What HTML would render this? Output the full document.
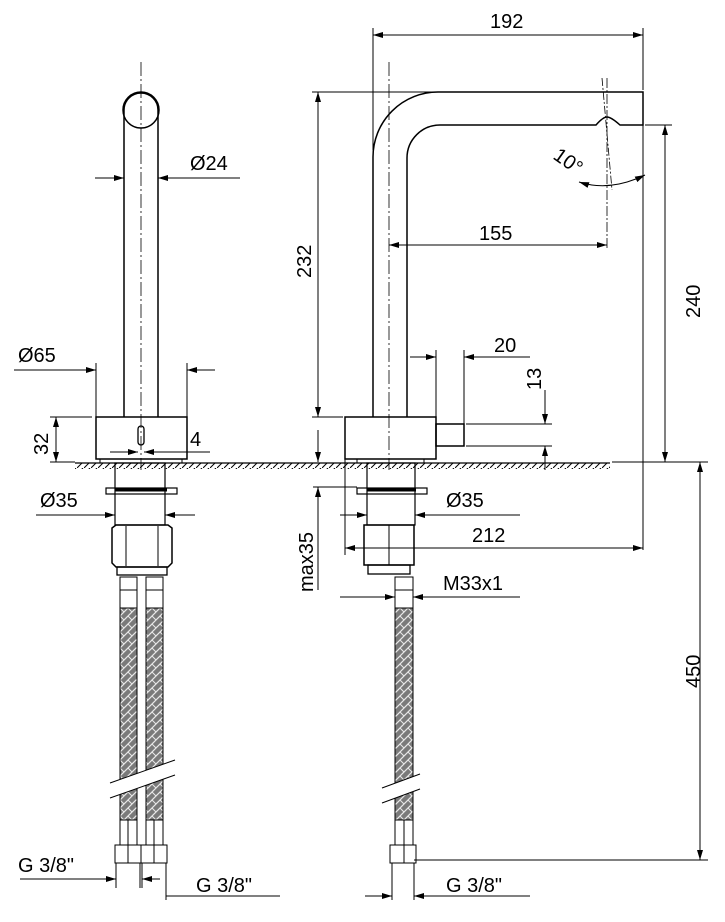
<!DOCTYPE html>
<html><head><meta charset="utf-8"><style>
html,body{margin:0;padding:0;background:#fff}
svg{display:block}
text{font-family:"Liberation Sans",Arial,sans-serif;font-size:20px;fill:#000}
</style></head><body>
<svg width="725" height="922" viewBox="0 0 725 922" xmlns="http://www.w3.org/2000/svg">
<defs>
<marker id="a" viewBox="0 0 10 6" refX="10" refY="3" markerWidth="10" markerHeight="6" orient="auto-start-reverse" markerUnits="userSpaceOnUse"><path d="M0,0 L10,3 L0,6 Z" fill="#000"/></marker>
<pattern id="hatch" width="7" height="6" patternUnits="userSpaceOnUse"><path d="M0,6 L6,0" stroke="#000" stroke-width="1"/></pattern>
<pattern id="braid" width="8" height="8" patternUnits="userSpaceOnUse"><rect width="8" height="8" fill="#7a7a7a"/><path d="M0,8 L8,0 M-2,2 L2,-2 M6,10 L10,6" stroke="#e8e8e8" stroke-width="1.2"/><path d="M0,0 L4,4" stroke="#e8e8e8" stroke-width="1"/></pattern>
</defs>
<g fill="none" stroke="#000" stroke-width="1">
<rect x="75" y="463" width="535" height="6" fill="url(#hatch)" stroke="none"/>
<line x1="75" y1="463" x2="610" y2="463" stroke-width="1.3"/>

<line x1="141" y1="62" x2="141" y2="470" stroke-dasharray="14,3,2,3" stroke-width="0.8"/>
<path d="M124,417 V110 A17,17 0 0 1 158,110 V417" stroke-width="1.5"/>
<circle cx="141" cy="110" r="18" stroke-width="1.5"/>
<rect x="96" y="417" width="91" height="42" stroke-width="1.5"/>
<rect x="138" y="426" width="6" height="19" rx="3" stroke-width="1.3"/>
<rect x="100" y="459" width="82" height="4" stroke-width="1"/>
<rect x="115" y="463" width="50" height="62" stroke-width="1.2"/>
<rect x="106" y="488" width="71" height="6" stroke-width="1.2"/>
<line x1="115" y1="490" x2="167" y2="490" stroke-width="3"/>
<path d="M112,528 L116,525 H168 L172,528 V563 L168,567 H116 L112,563 Z" stroke-width="1.5"/>
<line x1="126" y1="526" x2="126" y2="566"/><line x1="158" y1="526" x2="158" y2="566"/>
<rect x="117" y="567" width="50" height="8" stroke-width="1.3"/>
<g stroke-width="1">
<rect x="120" y="577" width="17" height="31"/><rect x="146" y="577" width="17" height="31"/>
<line x1="120" y1="590" x2="137" y2="590"/><line x1="146" y1="590" x2="163" y2="590"/>
<rect x="120" y="608" width="17" height="212" fill="url(#braid)"/>
<rect x="146" y="608" width="17" height="212" fill="url(#braid)"/>
<polygon points="110,783 175,760 175,775 110,798" fill="#fff" stroke="none"/>
<line x1="110" y1="783" x2="175" y2="760"/><line x1="110" y1="798" x2="175" y2="775"/>
<rect x="120" y="820" width="17" height="25"/><rect x="146" y="820" width="17" height="25"/>
<rect x="115" y="845" width="26" height="18"/><rect x="141" y="845" width="26" height="18"/>
<line x1="128" y1="820" x2="128" y2="863"/><line x1="154" y1="820" x2="154" y2="863"/>
<line x1="116" y1="863" x2="116" y2="888"/><line x1="140" y1="863" x2="140" y2="888"/>
<line x1="142" y1="863" x2="142" y2="888"/><line x1="166" y1="863" x2="166" y2="888"/>
</g>
<line x1="95" y1="178" x2="124" y2="178" marker-end="url(#a)"/>
<line x1="240" y1="178" x2="158" y2="178" marker-end="url(#a)"/>
<line x1="14" y1="370" x2="96" y2="370" marker-end="url(#a)"/>
<line x1="215" y1="370" x2="187" y2="370" marker-end="url(#a)"/>
<line x1="96" y1="363" x2="96" y2="417"/><line x1="187" y1="363" x2="187" y2="417"/>
<line x1="50" y1="417" x2="92" y2="417"/><line x1="50" y1="462" x2="75" y2="462"/>
<line x1="56" y1="417" x2="56" y2="462" marker-start="url(#a)" marker-end="url(#a)"/>
<line x1="110" y1="452" x2="138" y2="452" marker-end="url(#a)"/>
<line x1="210" y1="452" x2="144" y2="452" marker-end="url(#a)"/>
<line x1="36" y1="515" x2="115" y2="515" marker-end="url(#a)"/>
<line x1="195" y1="515" x2="165" y2="515" marker-end="url(#a)"/>
<line x1="20" y1="879" x2="116" y2="879" marker-end="url(#a)"/>
<line x1="160" y1="879" x2="142" y2="879" marker-end="url(#a)"/>
<line x1="166" y1="896" x2="280" y2="896"/>
<line x1="166" y1="888" x2="166" y2="900"/>

<line x1="389" y1="62" x2="389" y2="470" stroke-dasharray="14,3,2,3" stroke-width="0.8"/>
<path d="M373,417 V157 A65,65 0 0 1 438,92 H643 V125 H620 Q611,117 607,117 Q603,117 596,125 H440 A33,33 0 0 0 407,158 V417" stroke-width="1.5"/>
<line x1="602" y1="78" x2="612" y2="190" stroke-width="0.8" stroke-dasharray="8,2,2,2"/>
<line x1="607" y1="78" x2="607" y2="250" stroke-width="0.8" stroke-dasharray="10,2,2,2"/>
<path d="M579,182 Q610,192 645,175" marker-start="url(#a)" marker-end="url(#a)"/>
<rect x="345" y="417" width="91" height="42" stroke-width="1.5"/>
<rect x="436" y="424" width="28" height="22" stroke-width="1.5"/>
<rect x="357" y="459" width="67" height="4"/>
<rect x="367" y="463" width="48" height="62" stroke-width="1.2"/>
<rect x="357" y="488" width="70" height="6" stroke-width="1.2"/>
<line x1="367" y1="490" x2="416" y2="490" stroke-width="3"/>
<path d="M364,525 H414 V565 H364 Z" stroke-width="1.5"/>
<line x1="389" y1="525" x2="389" y2="565"/>
<rect x="368" y="565" width="42" height="9" stroke-width="1.3"/>
<rect x="395" y="577" width="18" height="31"/><line x1="395" y1="590" x2="413" y2="590"/>
<rect x="395" y="608" width="18" height="212" fill="url(#braid)"/>
<polygon points="382,788 420,774 420,789 382,803" fill="#fff" stroke="none"/>
<line x1="382" y1="788" x2="420" y2="774"/><line x1="382" y1="803" x2="420" y2="789"/>
<rect x="395" y="820" width="18" height="25"/>
<rect x="390" y="845" width="26" height="18"/>
<line x1="404" y1="820" x2="404" y2="863"/>
<line x1="392" y1="863" x2="392" y2="900"/><line x1="414" y1="863" x2="414" y2="900"/>
<line x1="373" y1="28" x2="373" y2="150"/><line x1="643" y1="28" x2="643" y2="90"/>
<line x1="373" y1="35" x2="643" y2="35" marker-start="url(#a)" marker-end="url(#a)"/>
<line x1="312" y1="92" x2="436" y2="92"/>
<line x1="312" y1="417" x2="343" y2="417"/>
<line x1="318" y1="92" x2="318" y2="417" marker-start="url(#a)" marker-end="url(#a)"/>
<line x1="645" y1="125" x2="672" y2="125"/>
<line x1="665" y1="125" x2="665" y2="462" marker-start="url(#a)" marker-end="url(#a)"/>
<line x1="389" y1="245" x2="607" y2="245" marker-start="url(#a)" marker-end="url(#a)"/>
<line x1="436" y1="350" x2="436" y2="417"/><line x1="464" y1="350" x2="464" y2="424"/>
<line x1="410" y1="357" x2="436" y2="357" marker-end="url(#a)"/>
<line x1="530" y1="357" x2="464" y2="357" marker-end="url(#a)"/>
<line x1="466" y1="424" x2="552" y2="424"/><line x1="466" y1="446" x2="552" y2="446"/>
<line x1="545" y1="390" x2="545" y2="424" marker-end="url(#a)"/>
<line x1="545" y1="470" x2="545" y2="446" marker-end="url(#a)"/>
<line x1="318" y1="430" x2="318" y2="462" marker-end="url(#a)"/>
<line x1="313" y1="487" x2="357" y2="487"/>
<line x1="318" y1="590" x2="318" y2="487" marker-end="url(#a)"/>
<line x1="643" y1="125" x2="643" y2="550"/>
<line x1="345" y1="459" x2="345" y2="555"/>
<line x1="345" y1="548" x2="643" y2="548" marker-start="url(#a)" marker-end="url(#a)"/>
<line x1="340" y1="515" x2="367" y2="515" marker-end="url(#a)"/>
<line x1="520" y1="515" x2="415" y2="515" marker-end="url(#a)"/>
<line x1="340" y1="597" x2="395" y2="597" marker-end="url(#a)"/>
<line x1="520" y1="597" x2="413" y2="597" marker-end="url(#a)"/>
<line x1="700" y1="462" x2="700" y2="860" marker-start="url(#a)" marker-end="url(#a)"/>
<line x1="612" y1="462" x2="708" y2="462"/>
<line x1="414" y1="860" x2="708" y2="860"/>
<line x1="365" y1="896" x2="392" y2="896" marker-end="url(#a)"/>
<line x1="530" y1="896" x2="414" y2="896" marker-end="url(#a)"/>
</g>
<text x="190" y="170">Ø24</text>
<text x="18" y="362">Ø65</text>
<text x="190" y="446">4</text>
<text transform="translate(48,455) rotate(-90)">32</text>
<text x="40" y="507">Ø35</text>
<text x="18" y="872">G 3/8"</text>
<text x="196" y="892">G 3/8"</text>
<text x="490" y="28">192</text>
<text transform="translate(311,278) rotate(-90)">232</text>
<text transform="translate(700,318) rotate(-90)">240</text>
<text transform="translate(552,158) rotate(35)">10°</text>
<text x="479" y="240">155</text>
<text x="494" y="352">20</text>
<text transform="translate(541,390) rotate(-90)">13</text>
<text x="446" y="507">Ø35</text>
<text x="472" y="542">212</text>
<text transform="translate(313,592) rotate(-90)">max35</text>
<text x="443" y="590">M33x1</text>
<text transform="translate(700,688) rotate(-90)">450</text>
<text x="446" y="892">G 3/8"</text>
</svg>
</body></html>
